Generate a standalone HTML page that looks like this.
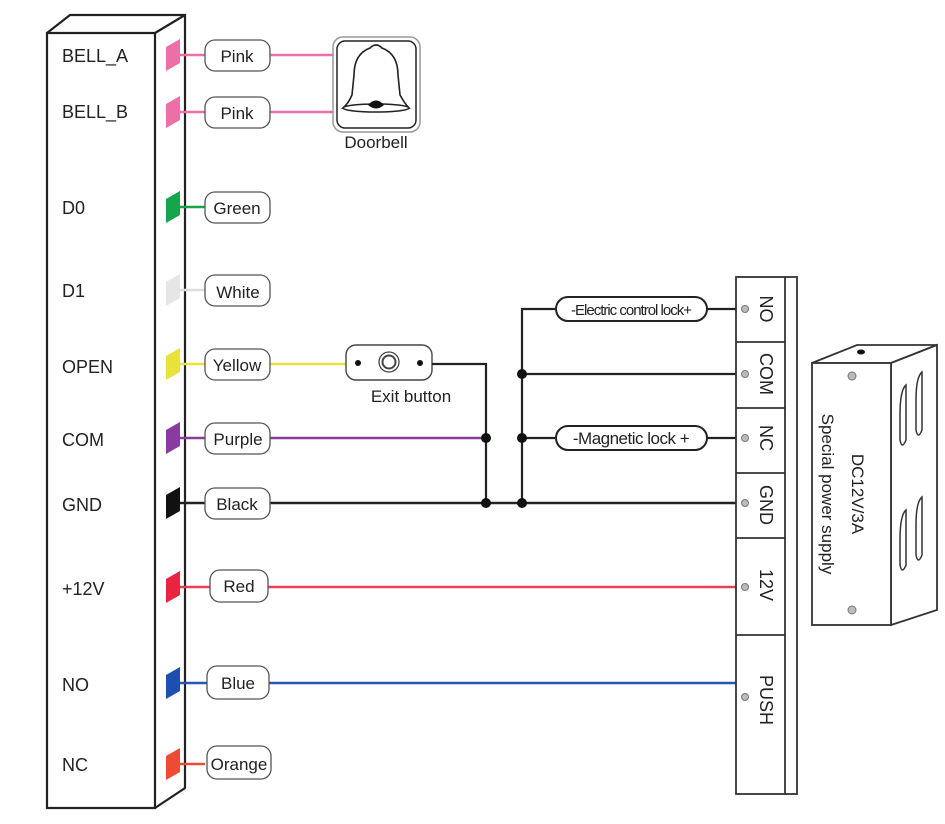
<!DOCTYPE html>
<html><head><meta charset="utf-8"><style>
html,body{margin:0;padding:0;background:#fff}
svg{display:block}
text{font-family:"Liberation Sans",sans-serif;fill:#222}
</style></head><body>
<svg width="945" height="824" viewBox="0 0 945 824" xmlns="http://www.w3.org/2000/svg">
<!-- main reader box -->
<g fill="none" stroke="#222" stroke-width="2.2">
<polygon points="47,33 155,33 155,808 47,808" fill="#fff"/>
<polyline points="47,33 70,15 185,15 185,788 155,808"/>
<line x1="155" y1="33" x2="185" y2="15"/>
</g>
<g font-size="18">
<text x="62" y="62">BELL_A</text>
<text x="62" y="118">BELL_B</text>
<text x="62" y="214">D0</text>
<text x="62" y="297">D1</text>
<text x="62" y="373">OPEN</text>
<text x="62" y="446">COM</text>
<text x="62" y="511">GND</text>
<text x="62" y="595">+12V</text>
<text x="62" y="691">NO</text>
<text x="62" y="771">NC</text>
</g>
<!-- pads and wires -->
<g stroke-width="2.5">
<line x1="178" y1="55" x2="335" y2="55" stroke="#ee6fa8"/>
<line x1="178" y1="112" x2="335" y2="112" stroke="#ee6fa8"/>
<line x1="178" y1="207" x2="205" y2="207" stroke="#15a54b"/>
<line x1="178" y1="290" x2="205" y2="290" stroke="#ddd"/>
<line x1="178" y1="364" x2="346" y2="364" stroke="#e8e23a"/>
<line x1="178" y1="438" x2="486" y2="438" stroke="#8a3ba0"/>
<line x1="178" y1="503" x2="736" y2="503" stroke="#222"/>
<line x1="178" y1="587" x2="736" y2="587" stroke="#e8405a"/>
<line x1="178" y1="683" x2="736" y2="683" stroke="#2857b0"/>
<line x1="178" y1="764" x2="205" y2="764" stroke="#ee4b34"/>
</g>
<g>
<polygon points="166,47 180,39 180,63 166,71" fill="#ee6fa8"/>
<polygon points="166,104 180,96 180,120 166,128" fill="#ee6fa8"/>
<polygon points="166,199 180,191 180,215 166,223" fill="#15a54b"/>
<polygon points="166,282 180,274 180,298 166,306" fill="#e6e6e6"/>
<polygon points="166,356 180,348 180,372 166,380" fill="#e8e23a"/>
<polygon points="166,430 180,422 180,446 166,454" fill="#8a3ba0"/>
<polygon points="166,495 180,487 180,511 166,519" fill="#111"/>
<polygon points="166,579 180,571 180,595 166,603" fill="#e8243f"/>
<polygon points="166,675 180,667 180,691 166,699" fill="#1d4fb0"/>
<polygon points="166,756 180,748 180,772 166,780" fill="#ee4b34"/>
</g>
<!-- labels -->
<g fill="#fff" stroke="#555" stroke-width="1.3">
<rect x="205" y="40" width="65" height="31" rx="10"/>
<rect x="205" y="97" width="65" height="31" rx="10"/>
<rect x="205" y="192" width="65" height="31" rx="10"/>
<rect x="205" y="275" width="65" height="31" rx="10"/>
<rect x="205" y="349" width="65" height="31" rx="10"/>
<rect x="205" y="423" width="65" height="31" rx="10"/>
<rect x="205" y="488" width="65" height="31" rx="10"/>
<rect x="210" y="570" width="58" height="32" rx="10"/>
<rect x="207" y="666" width="62" height="33" rx="10"/>
<rect x="207" y="746" width="64" height="33" rx="10"/>
</g>
<g font-size="17" text-anchor="middle">
<text x="237" y="62">Pink</text>
<text x="237" y="119">Pink</text>
<text x="237" y="214">Green</text>
<text x="238" y="298">White</text>
<text x="237" y="371">Yellow</text>
<text x="238" y="445">Purple</text>
<text x="237" y="510">Black</text>
<text x="239" y="592">Red</text>
<text x="238" y="689">Blue</text>
<text x="239" y="770">Orange</text>
</g>
<!-- doorbell -->
<rect x="333" y="37" width="87" height="95" rx="10" fill="#fff" stroke="#999" stroke-width="1.5"/>
<rect x="337" y="41" width="79" height="87" rx="8" fill="none" stroke="#222" stroke-width="1.5"/>
<path d="M370,48 Q376,42 382,48 Q398,54 398,75 L400,95 Q405,104 409,108 L343,108 Q348,104 352,95 L354,75 Q354,54 370,48 Z" fill="none" stroke="#222" stroke-width="1.6"/>
<ellipse cx="376" cy="108" rx="33" ry="4" fill="#fff" stroke="#222" stroke-width="1.5"/>
<path d="M368,105 Q376,96 384,105 Q376,112 368,105 Z" fill="#111"/>
<text x="376" y="148" font-size="17" text-anchor="middle">Doorbell</text>
<!-- exit button -->
<rect x="346" y="345" width="86" height="35" rx="10" fill="#fff" stroke="#444" stroke-width="1.4"/>
<circle cx="358" cy="363" r="3" fill="#111"/>
<circle cx="420" cy="363" r="3" fill="#111"/>
<circle cx="389" cy="362" r="10" fill="none" stroke="#444" stroke-width="1.3"/>
<circle cx="389" cy="362" r="6.5" fill="none" stroke="#444" stroke-width="2"/>
<text x="411" y="402" font-size="17" text-anchor="middle">Exit button</text>
<!-- black wiring -->
<g stroke="#222" stroke-width="2.2" fill="none">
<polyline points="432,364 486,364 486,503"/>
<polyline points="555,309 522,309 522,503"/>
<line x1="522" y1="374" x2="736" y2="374"/>
<line x1="522" y1="438" x2="555" y2="438"/>
<line x1="707" y1="309" x2="736" y2="309"/>
<line x1="707" y1="438" x2="736" y2="438"/>
</g>
<g fill="#111">
<circle cx="486" cy="438" r="5"/><circle cx="486" cy="503" r="5"/>
<circle cx="522" cy="374" r="5"/><circle cx="522" cy="438" r="5"/><circle cx="522" cy="503" r="5"/>
</g>
<g fill="#fff" stroke="#222" stroke-width="2">
<rect x="556" y="297" width="151" height="24" rx="12"/>
<rect x="556" y="426" width="151" height="24" rx="12"/>
</g>
<text x="631" y="315" font-size="15" text-anchor="middle" letter-spacing="-1">-Electric control lock+</text>
<text x="631" y="444" font-size="17" text-anchor="middle" letter-spacing="-0.5">-Magnetic lock +</text>
<!-- terminal block -->
<g fill="none" stroke="#333" stroke-width="1.8">
<rect x="736" y="277" width="61" height="517" fill="#fff"/>
<line x1="785" y1="277" x2="785" y2="794"/>
<line x1="736" y1="342" x2="785" y2="342"/>
<line x1="736" y1="408" x2="785" y2="408"/>
<line x1="736" y1="473" x2="785" y2="473"/>
<line x1="736" y1="538" x2="785" y2="538"/>
<line x1="736" y1="635" x2="785" y2="635"/>
</g>
<g fill="#bbb" stroke="#777" stroke-width="1">
<circle cx="745" cy="309" r="3.5"/><circle cx="745" cy="374" r="3.5"/><circle cx="745" cy="438" r="3.5"/>
<circle cx="745" cy="503" r="3.5"/><circle cx="745" cy="587" r="3.5"/><circle cx="745" cy="697" r="3.5"/>
</g>
<g font-size="18" text-anchor="middle">
<text transform="translate(760,309) rotate(90)">NO</text>
<text transform="translate(760,374) rotate(90)">COM</text>
<text transform="translate(760,438) rotate(90)">NC</text>
<text transform="translate(760,505) rotate(90)">GND</text>
<text transform="translate(760,585) rotate(90)">12V</text>
<text transform="translate(760,700) rotate(90)">PUSH</text>
</g>
<!-- power supply -->
<g fill="#fff" stroke="#333" stroke-width="1.8">
<polygon points="812,363 857,345 937,345 891,363"/>
<polygon points="891,363 937,345 937,610 891,625"/>
<rect x="812" y="363" width="79" height="262"/>
</g>
<ellipse cx="861" cy="352" rx="4" ry="2.5" fill="#111"/>
<g fill="none" stroke="#333" stroke-width="1.5">
<path d="M906,385 Q900,390 900,415 L900,440 Q902,450 906,440 Z"/>
<path d="M922,372 Q916,377 916,400 L916,430 Q918,440 922,430 Z"/>
<path d="M906,510 Q900,515 900,540 L900,565 Q902,575 906,565 Z"/>
<path d="M922,497 Q916,502 916,525 L916,555 Q918,565 922,555 Z"/>
</g>
<g fill="#bbb" stroke="#777" stroke-width="1">
<circle cx="852" cy="376" r="4"/><circle cx="852" cy="610" r="4"/>
</g>
<text transform="translate(852,494) rotate(90)" font-size="17" text-anchor="middle">DC12V/3A</text>
<text transform="translate(822,494) rotate(90)" font-size="17" text-anchor="middle">Special power supply</text>
</svg>
</body></html>
